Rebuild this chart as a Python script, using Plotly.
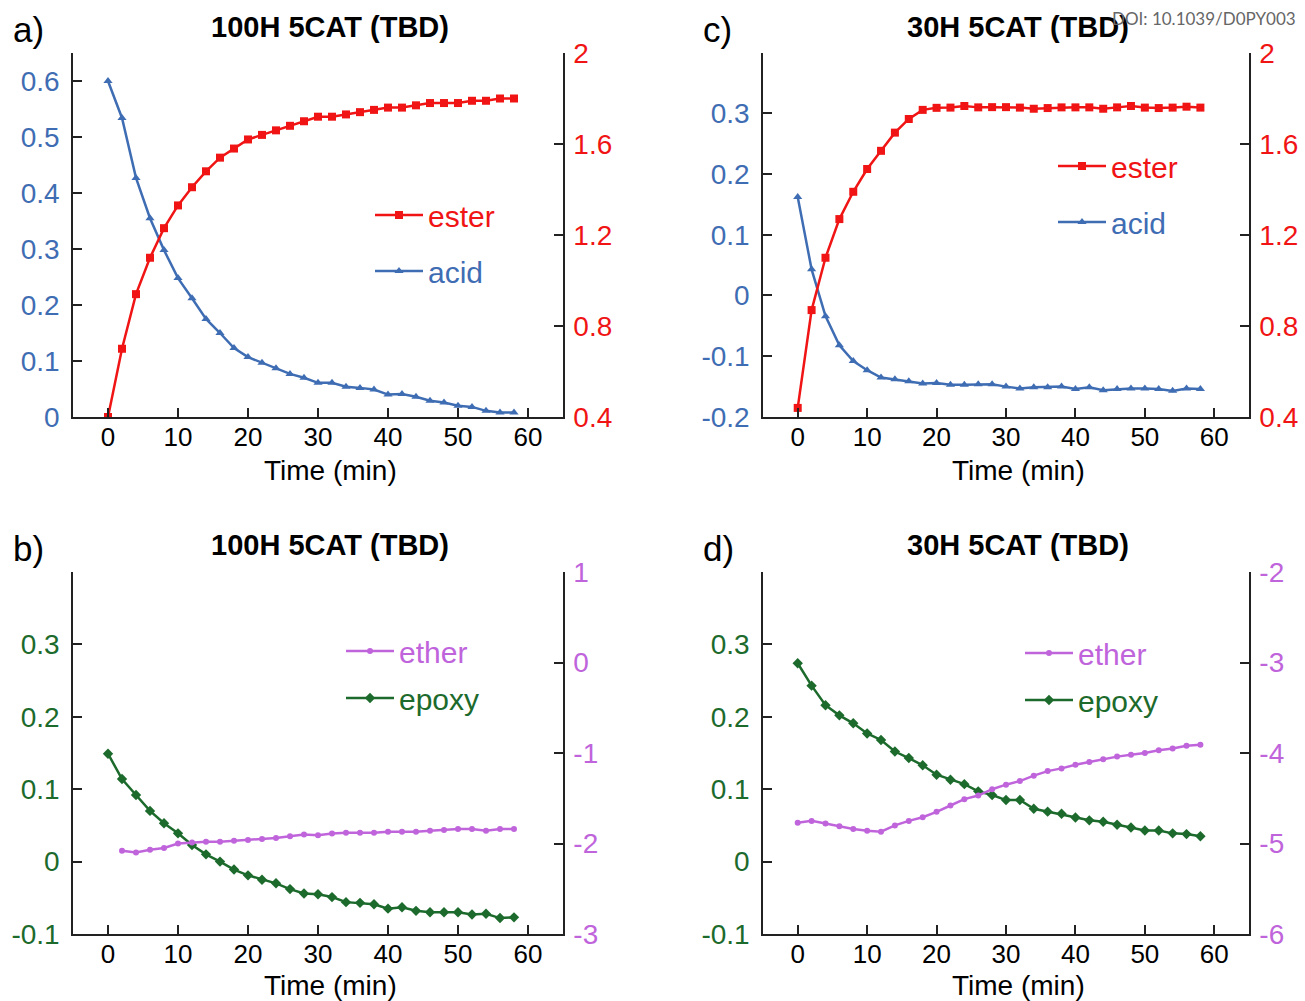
import plotly.graph_objects as go

W, H = 1305, 1001

# ---------------- data ----------------
time_min = [0, 2, 4, 6, 8, 10, 12, 14, 16, 18, 20, 22, 24, 26, 28,
            30, 32, 34, 36, 38, 40, 42, 44, 46, 48, 50, 52, 54, 56, 58]
time_ether_b = [2, 4, 6, 8, 10, 12, 14, 16, 18, 20, 22, 24, 26, 28,
                30, 32, 34, 36, 38, 40, 42, 44, 46, 48, 50, 52, 54, 56, 58]

# a) 100H 5CAT (TBD)
acid_a = [0.600, 0.534, 0.427, 0.355, 0.298, 0.248, 0.212, 0.175, 0.150, 0.123,
          0.107, 0.097, 0.087, 0.077, 0.070, 0.061, 0.061, 0.054, 0.052, 0.049,
          0.040, 0.041, 0.036, 0.029, 0.026, 0.020, 0.018, 0.011, 0.008, 0.008]
ester_a = [0.40, 0.70, 0.94, 1.10, 1.23, 1.33, 1.41, 1.48, 1.54, 1.58,
           1.62, 1.64, 1.66, 1.68, 1.70, 1.72, 1.72, 1.73, 1.74, 1.75,
           1.76, 1.76, 1.77, 1.78, 1.78, 1.78, 1.79, 1.79, 1.80, 1.80]

# c) 30H 5CAT (TBD)
acid_c = [0.162, 0.043, -0.034, -0.082, -0.108, -0.123, -0.135, -0.138, -0.141, -0.145,
          -0.144, -0.147, -0.147, -0.146, -0.146, -0.150, -0.153, -0.151, -0.151, -0.150,
          -0.154, -0.151, -0.156, -0.154, -0.153, -0.153, -0.154, -0.157, -0.153, -0.154]
ester_c = [0.44, 0.87, 1.10, 1.27, 1.39, 1.49, 1.57, 1.65, 1.71, 1.750,
           1.759, 1.760, 1.767, 1.761, 1.762, 1.762, 1.760, 1.755, 1.758, 1.761,
           1.761, 1.761, 1.755, 1.761, 1.767, 1.760, 1.758, 1.760, 1.764, 1.760]

# b) 100H 5CAT (TBD)
epoxy_b = [0.149, 0.114, 0.092, 0.070, 0.053, 0.039, 0.023, 0.010, 0.000, -0.011,
           -0.019, -0.025, -0.030, -0.038, -0.044, -0.045, -0.049, -0.056, -0.057, -0.059,
           -0.065, -0.063, -0.068, -0.070, -0.070, -0.070, -0.073, -0.072, -0.078, -0.077]
ether_b = [-2.08, -2.10, -2.07, -2.05, -2.00, -1.99, -1.98, -1.98, -1.97, -1.96,
           -1.95, -1.94, -1.92, -1.90, -1.91, -1.89, -1.88, -1.88, -1.88, -1.87,
           -1.87, -1.87, -1.86, -1.85, -1.84, -1.84, -1.86, -1.84, -1.84]

# d) 30H 5CAT (TBD)
epoxy_d = [0.274, 0.243, 0.216, 0.202, 0.191, 0.177, 0.168, 0.152, 0.143, 0.133,
           0.120, 0.113, 0.107, 0.097, 0.092, 0.085, 0.085, 0.073, 0.069, 0.066,
           0.061, 0.057, 0.055, 0.051, 0.047, 0.043, 0.043, 0.039, 0.038, 0.035]
ether_d = [-4.77, -4.75, -4.78, -4.81, -4.84, -4.86, -4.87, -4.80, -4.75, -4.71,
           -4.65, -4.58, -4.51, -4.47, -4.40, -4.35, -4.31, -4.25, -4.20, -4.17,
           -4.13, -4.10, -4.07, -4.04, -4.02, -4.00, -3.97, -3.95, -3.92, -3.91]

# tick labels
x_ticks = [0, 10, 20, 30, 40, 50, 60]
left_ticks_a = [0, 0.1, 0.2, 0.3, 0.4, 0.5, 0.6]
left_text_a = ["0", "0.1", "0.2", "0.3", "0.4", "0.5", "0.6"]
left_ticks_c = [-0.2, -0.1, 0, 0.1, 0.2, 0.3]
left_text_c = ["-0.2", "-0.1", "0", "0.1", "0.2", "0.3"]
right_ticks_ac = [0.4, 0.8, 1.2, 1.6, 2]
right_text_ac = ["0.4", "0.8", "1.2", "1.6", "2"]
left_ticks_bd = [-0.1, 0, 0.1, 0.2, 0.3]
left_text_bd = ["-0.1", "0", "0.1", "0.2", "0.3"]
right_ticks_b = [-3, -2, -1, 0, 1]
right_text_b = ["-3", "-2", "-1", "0", "1"]
right_ticks_d = [-6, -5, -4, -3, -2]
right_text_d = ["-6", "-5", "-4", "-3", "-2"]

titles = ["100H 5CAT (TBD)", "30H 5CAT (TBD)", "100H 5CAT (TBD)", "30H 5CAT (TBD)"]
panel_labels = ["a)", "c)", "b)", "d)"]
x_title = "Time (min)"

# ---------------- styles ----------------
RED = "#f01414"
BLUE = "#3f6db3"
PURPLE = "#c064dc"
GREEN = "#1c6a2c"
AXC = "#222222"
FONT = "Liberation Sans, Arial, sans-serif"


def px(xp):
    return xp / W


def py(yp):
    return 1 - yp / H


panels = [
    dict(xd=(73, 563), yd=(53, 417)),    # a
    dict(xd=(763, 1249), yd=(53, 417)),  # c
    dict(xd=(73, 563), yd=(572, 934)),   # b
    dict(xd=(763, 1249), yd=(572, 934)), # d
]

fig = go.Figure()

axis_common = dict(showline=True, linecolor=AXC, linewidth=1.5, ticks="inside",
                   ticklen=9, tickwidth=1.5, tickcolor=AXC, showgrid=False,
                   zeroline=False, automargin=False)

left_cfg = [
    (left_ticks_a, left_text_a, [0, 0.65], BLUE),
    (left_ticks_c, left_text_c, [-0.2, 0.399], BLUE),
    (left_ticks_bd, left_text_bd, [-0.1, 0.4], GREEN),
    (left_ticks_bd, left_text_bd, [-0.1, 0.4], GREEN),
]
right_cfg = [
    (right_ticks_ac, right_text_ac, [0.4, 2], RED),
    (right_ticks_ac, right_text_ac, [0.4, 2], RED),
    (right_ticks_b, right_text_b, [-3, 1], PURPLE),
    (right_ticks_d, right_text_d, [-6, -2], PURPLE),
]

TICK_SIZE = 28
layout = dict(template="none", width=W, height=H,
              margin=dict(l=0, r=0, t=0, b=0, autoexpand=False),
              paper_bgcolor="white", plot_bgcolor="white",
              font=dict(family=FONT, color="black"))

for i, p in enumerate(panels):
    xn = "" if i == 0 else str(i + 1)
    yl = "" if i == 0 else str(2 * i + 1)
    yr = str(2 * i + 2)
    layout["xaxis" + xn] = dict(
        domain=[px(p["xd"][0]), px(p["xd"][1])], anchor="y" + yl,
        range=[-5, 65], tickvals=x_ticks, ticklabelstandoff=-4,
        tickfont=dict(size=26, color="black"),
        **axis_common)
    lt, ltx, lr, lc = left_cfg[i]
    layout["yaxis" + yl] = dict(
        domain=[py(p["yd"][1]), py(p["yd"][0])], anchor="x" + xn,
        range=lr, tickvals=lt, ticktext=ltx, ticklabelstandoff=6,
        tickfont=dict(size=TICK_SIZE, color=lc), **axis_common)
    rt, rtx, rr, rc = right_cfg[i]
    layout["yaxis" + yr] = dict(
        overlaying="y" + yl, side="right", anchor="x" + xn,
        range=rr, tickvals=rt, ticktext=rtx, ticklabelstandoff=3,
        tickfont=dict(size=TICK_SIZE, color=rc), **axis_common)

# ---------------- traces ----------------
series = [
    # (x, y, panel, right?, name, color, symbol, legend id, legend pos(px x, px y))
    (time_min, acid_a, 0, False, "acid", BLUE, "triangle-up", 2, (376, 271)),
    (time_min, ester_a, 0, True, "ester", RED, "square", 1, (376, 215)),
    (time_min, acid_c, 1, False, "acid", BLUE, "triangle-up", 4, (1059, 222)),
    (time_min, ester_c, 1, True, "ester", RED, "square", 3, (1059, 166)),
    (time_min, epoxy_b, 2, False, "epoxy", GREEN, "diamond", 6, (347, 698)),
    (time_ether_b, ether_b, 2, True, "ether", PURPLE, "circle", 5, (347, 651)),
    (time_min, epoxy_d, 3, False, "epoxy", GREEN, "diamond", 8, (1026, 700)),
    (time_min, ether_d, 3, True, "ether", PURPLE, "circle", 7, (1026, 653)),
]

for xs, ys, pi, right, name, col, sym, lid, lpos in series:
    xn = "" if pi == 0 else str(pi + 1)
    ya = str(2 * pi + 2) if right else ("" if pi == 0 else str(2 * pi + 1))
    lname = "legend" if lid == 1 else "legend" + str(lid)
    msize = {"circle": 6, "square": 8, "triangle-up": 8, "diamond": 8}[sym]
    fig.add_trace(go.Scatter(
        x=xs, y=ys, xaxis="x" + xn, yaxis="y" + ya, mode="lines+markers",
        name="<span style='color:%s'>%s</span>" % (col, name),
        line=dict(color=col, width=2.5),
        marker=dict(color=col, symbol=sym, size=msize, line=dict(width=0)),
        legend=lname, showlegend=True))
    layout[lname] = dict(x=px(lpos[0] - 6), y=py(lpos[1]), xanchor="left", yanchor="middle",
                         bgcolor="rgba(0,0,0,0)", borderwidth=0,
                         font=dict(size=30, family=FONT, color=col),
                         itemwidth=48, tracegroupgap=0)

# ---------------- annotations ----------------
ann = []
for i, p in enumerate(panels):
    cx = (p["xd"][0] + p["xd"][1]) / 2 + 12
    ty = 27 if i < 2 else 545
    ann.append(dict(text="<b>%s</b>" % titles[i], x=px(cx), y=py(ty), xref="paper", yref="paper",
                    xanchor="center", yanchor="middle", showarrow=False,
                    font=dict(size=29, color="black", family=FONT)))
    xty = 470 if i < 2 else 985
    ann.append(dict(text=x_title, x=px(cx), y=py(xty), xref="paper", yref="paper",
                    xanchor="center", yanchor="middle", showarrow=False,
                    font=dict(size=28, color="black", family=FONT)))
    lx = 11 if p["xd"][0] < 500 else 701
    ly = 30 if i < 2 else 548
    ann.append(dict(text=panel_labels[i], x=px(lx), y=py(ly), xref="paper", yref="paper",
                    xanchor="left", yanchor="middle", showarrow=False,
                    font=dict(size=35, color="black", family=FONT)))

ann.append(dict(text="DOI: 10.1039/D0PY003", x=px(1110), y=py(18), xref="paper", yref="paper",
                xanchor="left", yanchor="middle", showarrow=False,
                font=dict(size=17, color="#666666", family="Lato, " + FONT)))

layout["annotations"] = ann
fig.update_layout(**layout)

fig.write_html("out.html", config={"displayModeBar": False},
               post_script="document.body.style.margin='0';document.body.style.overflow='hidden';")
